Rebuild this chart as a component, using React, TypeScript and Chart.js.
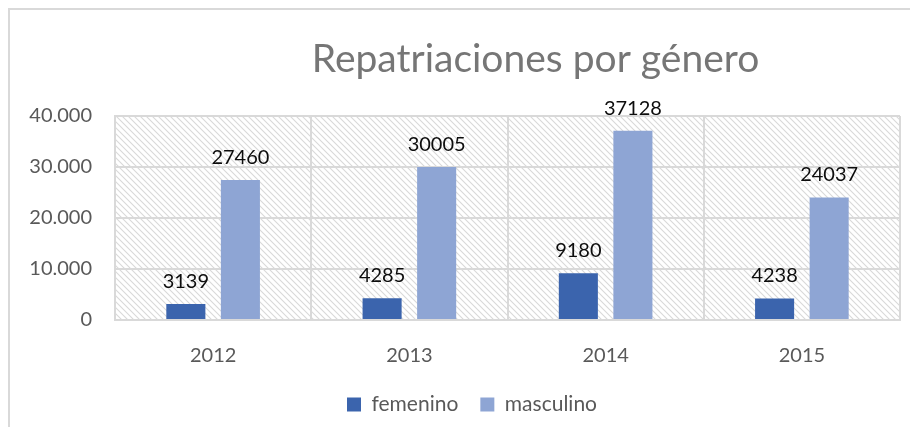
import React, { useEffect, useRef } from 'react';
import { Chart, registerables } from 'chart.js';

Chart.register(...registerables);

const categories = ['2012', '2013', '2014', '2015'];
const femenino = [3139, 4285, 9180, 4238];
const masculino = [27460, 30005, 37128, 24037];
const seriesNames = ['femenino', 'masculino'];
const seriesColors = ['#3B64AD', '#8EA5D4'];
const titleText = 'Repatriaciones por género';
const yMin = 0;
const yMax = 40000;
const yStep = 10000;

const FONT = 'Lato, "Open Sans", sans-serif';

function makeHatch(): CanvasPattern | string {
  const c = document.createElement('canvas');
  c.width = 6;
  c.height = 6;
  const g = c.getContext('2d');
  if (!g) return '#ffffff';
  g.fillStyle = '#ffffff';
  g.fillRect(0, 0, 6, 6);
  g.strokeStyle = '#D9D9D9';
  g.lineWidth = 1.1;
  g.beginPath();
  g.moveTo(-1, -1);
  g.lineTo(7, 7);
  g.moveTo(-1, 5);
  g.lineTo(1, 7);
  g.moveTo(5, -1);
  g.lineTo(7, 1);
  g.stroke();
  const p = g.createPattern(c, 'repeat');
  return p || '#ffffff';
}

const hatchPlugin = {
  id: 'hatchBg',
  beforeDraw(chart: any) {
    const { ctx, chartArea } = chart;
    if (!chartArea) return;
    ctx.save();
    ctx.fillStyle = makeHatch();
    ctx.fillRect(chartArea.left, chartArea.top, chartArea.right - chartArea.left, chartArea.bottom - chartArea.top);
    ctx.restore();
  },
};

const legendShiftPlugin = {
  id: 'legendShift',
  afterLayout(chart: any) {
    if (chart.legend) {
      chart.legend.left += 17;
      chart.legend.right += 17;
    }
  },
};

const labelsPlugin = {
  id: 'barLabels',
  afterDatasetsDraw(chart: any) {
    const { ctx } = chart;
    ctx.save();
    ctx.font = `20px ${FONT}`;
    ctx.fillStyle = '#0D0D0D';
    ctx.textAlign = 'center';
    ctx.textBaseline = 'alphabetic';
    chart.data.datasets.forEach((ds: any, di: number) => {
      const meta = chart.getDatasetMeta(di);
      meta.data.forEach((bar: any, i: number) => {
        ctx.fillText(String(ds.data[i]), bar.x, bar.y - 16);
      });
    });
    ctx.restore();
  },
};

const titlePlugin = {
  id: 'customTitle',
  afterDraw(chart: any) {
    const { ctx, chartArea } = chart;
    ctx.save();
    ctx.font = `39px ${FONT}`;
    ctx.fillStyle = '#767676';
    ctx.textAlign = 'center';
    ctx.textBaseline = 'alphabetic';
    const cx = (chartArea.left + chartArea.right) / 2 + 28;
    ctx.fillText(titleText, cx, 62);
    ctx.restore();
  },
};

export default function App() {
  const ref = useRef<HTMLCanvasElement | null>(null);

  useEffect(() => {
    if (!ref.current) return;
    const chart = new Chart(ref.current, {
      type: 'bar',
      data: {
        labels: categories,
        datasets: [
          {
            label: seriesNames[0],
            data: femenino,
            backgroundColor: seriesColors[0],
            categoryPercentage: 0.556,
            barPercentage: 0.716,
          },
          {
            label: seriesNames[1],
            data: masculino,
            backgroundColor: seriesColors[1],
            categoryPercentage: 0.556,
            barPercentage: 0.716,
          },
        ],
      },
      options: {
        animation: false,
        responsive: false,
        maintainAspectRatio: false,
        layout: { padding: { top: 106, left: 0, right: 10, bottom: 15 } },
        plugins: {
          title: { display: false },
          tooltip: { enabled: false },
          legend: {
            display: true,
            position: 'bottom',
            maxHeight: 40,
            labels: {
              boxWidth: 14,
              boxHeight: 14,
              padding: 22,
              color: '#595959',
              font: { family: FONT, size: 21 },
            },
          },
        },
        scales: {
          x: {
            grid: { color: '#D9D9D9', lineWidth: 2, drawTicks: false, offset: true },
            border: { color: '#D9D9D9', width: 2 },
            ticks: { color: '#595959', font: { family: FONT, size: 20 }, padding: 24 },
            afterFit(scale: any) {
              scale.height = 52;
            },
          },
          y: {
            min: yMin,
            max: yMax,
            grid: { color: '#D9D9D9', lineWidth: 2, drawTicks: false },
            border: { color: '#D9D9D9', width: 2 },
            ticks: {
              stepSize: yStep,
              color: '#595959',
              font: { family: FONT, size: 20 },
              padding: 23,
              callback: (v: any) => Number(v).toLocaleString('de-DE'),
            },
            afterFit(scale: any) {
              scale.width = 105;
            },
          },
        },
      },
      plugins: [hatchPlugin, legendShiftPlugin, labelsPlugin, titlePlugin],
    });
    return () => chart.destroy();
  }, []);

  return (
    <div
      style={{
        width: 902,
        height: 419,
        boxSizing: 'border-box',
        borderTop: '2px solid #D9D9D9',
        borderLeft: '2px solid #D9D9D9',
        overflow: 'hidden',
      }}
    >
      <canvas ref={ref} width={900} height={417} style={{ display: 'block' }} />
    </div>
  );
}
